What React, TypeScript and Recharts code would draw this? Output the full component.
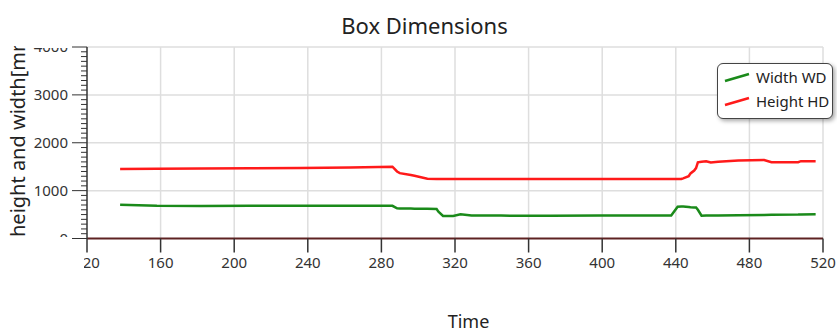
import React from 'react';
import { LineChart, Line, XAxis, YAxis, CartesianGrid } from 'recharts';

const TIME = [138, 158, 182, 209, 236, 263, 286, 288.5, 290, 296, 298, 305, 310, 311, 313.5, 319, 323, 329, 345, 372, 399, 427, 437.5, 441, 443, 444, 447, 448, 450, 451, 452, 454, 456.5, 459, 463, 474, 488, 492, 506.5, 508, 516];
const WIDTH_WD = [704, 683, 680, 682, 684, 683, 683, 630, 628, 625, 624, 620, 615, 560, 472, 472, 505, 480, 478, 475, 478, 480, 482, 665, 670, 668, 660, 655, 650, 648, 600, 475, 478, 480, 482, 488, 492, 494, 500, 502, 508];
const HEIGHT_HD = [1454, 1458, 1462, 1468, 1475, 1485, 1500, 1400, 1365, 1325, 1310, 1250, 1242, 1242, 1242, 1242, 1242, 1242, 1242, 1242, 1242, 1242, 1242, 1242, 1242, 1255, 1300, 1360, 1420, 1470, 1590, 1605, 1615, 1590, 1605, 1628, 1640, 1595, 1595, 1615, 1615];

const X_TICKS = [120, 160, 200, 240, 280, 320, 360, 400, 440, 480, 520];
const Y_MAJOR = [0, 1000, 2000, 3000, 4000];
const Y_TICKS = Array.from({ length: 41 }, (_, i) => i * 100);

const data = TIME.map((t, i) => ({ t, wd: WIDTH_WD[i], hd: HEIGHT_HD[i] }));

const FONT = '"Noto Sans", "Open Sans", sans-serif';
const AXIS_X = 87;

const YTick = (props: any) => {
  const { y, payload } = props;
  const v = payload.value;
  const major = Y_MAJOR.includes(v);
  const id = `yc${v}`;
  return (
    <g>
      <line x1={major ? 72 : 81} x2={AXIS_X} y1={y} y2={y} stroke="#333" strokeWidth={1} />
      {major && (
        <>
          <defs>
            <clipPath id={id}>
              <rect x={0} y={48} width={90} height={189} />
            </clipPath>
          </defs>
          <text x={68} y={y} dy={5} textAnchor="end" fontSize={15} fill="#333" fontFamily={FONT} clipPath={`url(#${id})`}>
            {v}
          </text>
        </>
      )}
    </g>
  );
};

const XTick = (props: any) => {
  const { x, y, payload } = props;
  const id = `xc${payload.value}`;
  return (
    <g>
      <defs>
        <clipPath id={id}>
          <rect x={84} y={240} width={760} height={40} />
        </clipPath>
      </defs>
      <text x={x} y={y} dy="0.71em" textAnchor="middle" fontSize={15} fill="#333" fontFamily={FONT} clipPath={`url(#${id})`}>
        {payload.value}
      </text>
    </g>
  );
};

function LegendBox() {
  const items = [
    { name: 'Width WD', color: '#1a8a1a' },
    { name: 'Height HD', color: '#ff1a1a' },
  ];
  return (
    <div
      style={{
        position: 'absolute',
        left: 717,
        top: 63,
        width: 114,
        height: 54,
        border: '1px solid #444',
        borderRadius: 6,
        background: '#fff',
        boxShadow: '2px 2px 4px rgba(0,0,0,0.35)',
        fontFamily: FONT,
        fontSize: 15,
        color: '#222',
      }}
    >
      {items.map((it, i) => (
        <div key={it.name} style={{ position: 'absolute', left: 6, top: 3 + i * 24, display: 'flex', alignItems: 'center' }}>
          <svg width={26} height={12}>
            <line x1={1} y1={10} x2={25} y2={3} stroke={it.color} strokeWidth={2.5} />
          </svg>
          <span style={{ marginLeft: 6 }}>{it.name}</span>
        </div>
      ))}
    </div>
  );
}

export default function App() {
  return (
    <div style={{ position: 'absolute', left: 0, top: 0, width: 837, height: 333, background: '#fff', overflow: 'hidden' }}>
      <div style={{ position: 'absolute', left: 0, width: 837, top: 10, textAlign: 'center', fontFamily: FONT, fontSize: 22, color: '#222', paddingLeft: 12, boxSizing: 'border-box' }}>
        Box Dimensions
      </div>
      <LineChart width={837} height={333} data={data} margin={{ top: 47, right: 14, bottom: 64.5, left: 0 }}>
        <CartesianGrid
          stroke="#dedede"
          strokeWidth={1.5}
          horizontalValues={[1000, 2000, 3000, 4000]}
          verticalValues={X_TICKS.slice(1)}
        />
        <XAxis
          dataKey="t"
          type="number"
          domain={[120, 520]}
          ticks={X_TICKS}
          interval={0}
          height={30}
          axisLine={{ stroke: '#5e2222', strokeWidth: 2 }}
          tickLine={{ stroke: '#333', strokeWidth: 1.5 }}
          tickSize={14}
          tickMargin={5}
          tick={<XTick />}
        />
        <YAxis
          type="number"
          domain={[0, 4000]}
          ticks={Y_TICKS}
          interval={0}
          width={87}
          axisLine={{ stroke: '#333', strokeWidth: 1.5 }}
          tickLine={false}
          tick={<YTick />}
        />
        <Line type="linear" dataKey="wd" stroke="#1a8a1a" strokeWidth={2.5} dot={false} isAnimationActive={false} />
        <Line type="linear" dataKey="hd" stroke="#ff1a1a" strokeWidth={2.5} dot={false} isAnimationActive={false} />
      </LineChart>
      <div style={{ position: 'absolute', left: 0, top: 46, width: 40, height: 194, overflow: 'hidden' }}>
        <svg width={40} height={194}>
          <text
            transform="translate(25,191) rotate(-90)"
            textAnchor="start"
            fontSize={20}
            fill="#222"
            fontFamily={FONT}
          >
            height and width[mm]
          </text>
        </svg>
      </div>
      <LegendBox />
      <div style={{ position: 'absolute', left: 0, width: 837, top: 309, paddingLeft: 100, boxSizing: 'border-box', textAlign: 'center', fontFamily: FONT, fontSize: 18, color: '#222' }}>
        Time
      </div>
    </div>
  );
}
